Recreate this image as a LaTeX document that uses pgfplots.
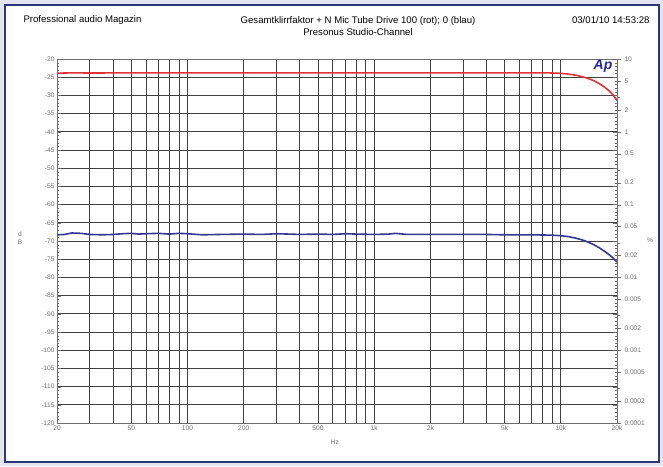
\documentclass[border=0pt]{standalone}
\usepackage{fontspec}
\setmainfont{Liberation Sans}
\usepackage{pgfplots}
\pgfplotsset{compat=1.18}
\definecolor{framebg}{RGB}{226,229,240}
\definecolor{frameln}{RGB}{45,55,120}
\definecolor{gridc}{RGB}{65,65,65}
\definecolor{redc}{RGB}{225,50,55}
\definecolor{bluec}{RGB}{55,55,145}
\definecolor{tickc}{RGB}{110,110,110}
\definecolor{apc}{RGB}{40,40,150}
\begin{document}
\begin{tikzpicture}[x=1pt,y=1pt]
\fill[framebg] (0,0) rectangle (663,466);
\fill[white] (5,4) rectangle (659,461);
\draw[frameln, line width=1.2pt] (5,4) rectangle (659,461);
\node[anchor=west, font=\fontsize{9.6}{12}\selectfont] at (20,446) {Professional audio Magazin};
\node[anchor=center, font=\fontsize{9.6}{12.5}\selectfont, align=center] at (358,440) {Gesamtklirrfaktor + N Mic Tube Drive 100 (rot); 0 (blau)\\Presonus Studio-Channel};
\node[anchor=east, font=\fontsize{9.6}{12}\selectfont] at (653,446) {03/01/10 14:53:28};
\begin{axis}[
  at={(57pt,43pt)}, anchor=south west, scale only axis,
  width=560pt, height=364pt,
  xmode=log, xmin=20, xmax=20000, ymin=-120, ymax=-20,
  xtick={20,30,40,50,60,70,80,90,100,200,300,400,500,600,700,800,900,1000,2000,3000,4000,5000,6000,7000,8000,9000,10000,20000},
  xticklabels={20,,,50,,,,,100,200,,,500,,,,,1k,2k,,,5k,,,,,10k,20k},
  ytick={-120,-115,...,-20},
  minor y tick num=4,
  xmajorgrids, ymajorgrids,
  grid style={gridc, line width=0.85pt},
  axis line style={tickc, line width=0.8pt},
  xtick style={draw=none},
  ytick style={tickc},
  major tick length=4pt, minor tick length=2.5pt,
  ticklabel style={font=\fontsize{6.6}{7}\selectfont, text=tickc},
  /pgf/number format/assume math mode=true,
  xticklabel style={yshift=1pt},
  yticklabel style={xshift=1pt},
]
\addplot[redc, line width=1.6pt, smooth] coordinates {
(20,-23.9) (25,-23.8) (30,-23.85) (50,-23.8) (100,-23.8) (200,-23.8) (500,-23.8) (1000,-23.8) (2000,-23.8) (5000,-23.8) (8000,-23.8) (9000,-23.85) (10000,-23.95) (11000,-24.15) (12000,-24.45) (13000,-24.85) (14000,-25.35) (15000,-25.95) (16000,-26.7) (17000,-27.6) (18000,-28.6) (19000,-29.8) (20000,-31.4)
};
\addplot[bluec, line width=1.6pt] coordinates {
(20,-68.3) (22,-68.2) (24,-67.8) (27,-67.9) (30,-68.2) (35,-68.3) (40,-68.2) (45,-68.0) (50,-67.9) (55,-68.1) (60,-68.0) (70,-67.9) (80,-68.1) (90,-67.9) (100,-68.0) (120,-68.3) (150,-68.2) (200,-68.1) (250,-68.2) (300,-68.0) (350,-68.1) (400,-68.2) (500,-68.1) (600,-68.2) (700,-68.0) (800,-68.1) (1000,-68.2) (1200,-68.1) (1300,-67.9) (1500,-68.2) (2000,-68.2) (3000,-68.2) (4000,-68.2) (5000,-68.3) (6000,-68.3) (7000,-68.3) (8000,-68.35) (9000,-68.4) (10000,-68.55) (11000,-68.8) (12000,-69.2) (13000,-69.7) (14000,-70.3) (15000,-71.0) (16000,-71.8) (17000,-72.7) (18000,-73.6) (19000,-74.6) (20000,-75.8)
};
\end{axis}
\begin{axis}[
  at={(57pt,43pt)}, anchor=south west, scale only axis,
  width=560pt, height=364pt,
  xmode=log, xmin=20, xmax=20000,
  ymode=log, ymin=0.0001, ymax=10,
  axis x line=none, axis y line*=right,
  ytick={10,5,2,1,0.5,0.2,0.1,0.05,0.02,0.01,0.005,0.002,0.001,0.0005,0.0002,0.0001},
  yticklabels={10,5,2,1,0.5,0.2,0.1,0.05,0.02,0.01,0.005,0.002,0.001,0.0005,0.0002,0.0001},
  minor ytick={3,0.3,0.03,0.003,0.0003},
  tick align=outside,
  major tick length=4pt, minor tick length=2.5pt,
  axis line style={tickc, line width=0.8pt},
  ytick style={tickc},
  ticklabel style={font=\fontsize{6.6}{7}\selectfont, text=tickc},
  /pgf/number format/assume math mode=true,
]
\end{axis}
\node[font=\fontsize{6.6}{7}\selectfont, text=tickc] at (335,24) {Hz};
\node[font=\fontsize{6.6}{7.5}\selectfont, text=tickc, align=center, inner sep=0pt] at (20,228) {d\\B};
\node[font=\fontsize{6.6}{7}\selectfont, text=tickc] at (650,226) {\%};
\node[font=\bfseries\itshape\fontsize{14}{15}\selectfont, text=apc, inner sep=0pt] at (603,400) {Ap};
\end{tikzpicture}
\end{document}
